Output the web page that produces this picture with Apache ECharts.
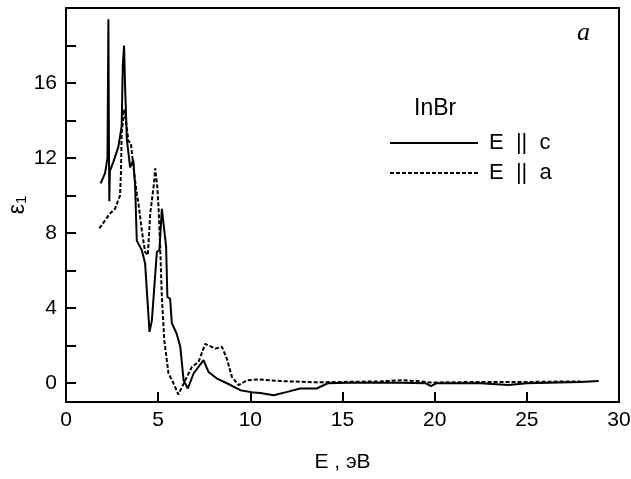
<!DOCTYPE html>
<html>
<head>
<meta charset="utf-8">
<script src="https://cdn.jsdelivr.net/npm/echarts@6/dist/echarts.min.js"></script>
<style>
  html, body { margin: 0; padding: 0; background: #fff; }
  #main { width: 631px; height: 479px; }
</style>
</head>
<body>
<div id="main"></div>
<script>
// E || c (solid), points [E, eps1]
var seriesC = [
    [1.88, 10.65], [2.12, 11.2], [2.25, 12.0], [2.30, 19.4], [2.33, 12.5], [2.35, 9.7],
    [2.38, 11.3], [2.57, 11.8], [2.84, 12.6], [3.02, 13.7], [3.08, 16.9], [3.15, 18.0],
    [3.2, 16.0], [3.3, 13.0], [3.48, 11.5], [3.57, 11.4], [3.65, 11.9], [3.75, 10.5],
    [3.84, 7.6], [4.11, 7.1], [4.29, 6.4], [4.53, 2.74], [4.66, 3.36], [4.93, 7.0],
    [5.07, 7.1], [5.2, 9.3], [5.3, 9.2], [5.43, 7.3], [5.5, 4.6], [5.65, 4.5],
    [5.74, 3.2], [6.0, 2.65], [6.2, 1.94], [6.38, 0.16], [6.61, -0.28], [6.92, 0.52],
    [7.46, 1.23], [7.73, 0.6], [8.19, 0.25], [8.73, 0.0], [9.46, -0.37], [10.2, -0.5],
    [10.54, -0.52], [11.27, -0.64], [12.0, -0.46], [12.7, -0.28], [13.6, -0.28], [14.2, 0],
    [15.3, 0.02], [18.2, 0.02], [19.5, 0.0], [19.8, -0.16], [20.1, 0.0], [22.5, 0.0],
    [24.0, -0.1], [25.0, 0.0], [27.9, 0.07], [28.9, 0.12]
];
// E || a (dashed)
var seriesA = [
    [1.81, 8.25], [2.39, 9.05], [2.66, 9.3], [2.93, 10.0], [2.98, 11.2], [3.02, 13.3],
    [3.15, 14.6], [3.25, 14.0], [3.39, 12.9], [3.52, 12.8], [3.62, 11.9], [3.7, 11.2],
    [3.84, 10.1], [3.93, 9.6], [4.11, 8.16], [4.29, 7.0], [4.44, 6.83], [4.57, 9.05],
    [4.78, 10.7], [4.84, 11.45], [4.95, 10.5], [5.02, 9.4], [5.11, 7.27], [5.2, 4.6],
    [5.33, 2.3], [5.56, 0.52], [5.83, 0.0], [6.1, -0.6], [6.29, -0.2], [6.83, 0.87],
    [7.19, 1.14], [7.55, 2.1], [8.1, 1.85], [8.46, 1.94], [8.73, 1.3], [9.0, 0.34],
    [9.36, -0.1], [9.82, 0.16], [10.5, 0.2], [11.6, 0.12], [13.4, 0.05], [17.1, 0.1],
    [18.2, 0.16], [19.2, 0.1], [19.8, 0.04], [22.5, 0.07], [25.2, 0.07], [27.9, 0.1]
];
var yTicks = [0, 2, 4, 6, 8, 10, 12, 14, 16, 18];
var yLabels = [0, 4, 8, 12, 16];

var font = 'Liberation Sans, Arial, sans-serif';
var myChart = echarts.init(document.getElementById('main'));

option = {
    backgroundColor: '#fff',
    animation: false,
    title: [{
        text: 'InBr',
        left: 414,
        top: 97,
        padding: 0,
        textStyle: { fontFamily: font, fontSize: 23, fontWeight: 'normal', color: '#000' }
    }, {
        text: 'a',
        left: 577,
        top: 20,
        padding: 0,
        textStyle: { fontFamily: 'Liberation Serif, Times New Roman, serif', fontStyle: 'italic', fontSize: 26, fontWeight: 'normal', color: '#000' }
    }],
    legend: {
        orient: 'vertical',
        left: 389,
        top: 132,
        padding: 0,
        itemWidth: 88,
        itemHeight: 14,
        itemGap: 8,
        itemStyle: { opacity: 0 },
        textStyle: { fontFamily: font, fontSize: 22, color: '#000', lineHeight: 22, padding: [0, 0, 0, 6] },
        data: ['E || c', 'E || a'],
        formatter: function (name) {
            return name.replace(/ \|\| /, '  ||  ');
        }
    },
    grid: {
        left: 66,
        right: 12,
        top: 8,
        bottom: 77,
        outerBoundsMode: 'none',
        containLabel: false,
        show: true,
        borderColor: '#000',
        borderWidth: 2
    },
    xAxis: {
        type: 'value',
        min: 0,
        max: 30,
        interval: 5,
        name: 'E , эВ',
        nameLocation: 'middle',
        nameGap: 50,
        nameMoveOverlap: false,
        nameTextStyle: { fontFamily: font, fontSize: 21, color: '#000' },
        axisLine: { onZero: false, lineStyle: { color: '#000', width: 2 } },
        axisTick: { inside: true, length: 10, lineStyle: { color: '#000', width: 2 } },
        axisLabel: { fontFamily: font, fontSize: 21, color: '#000', margin: 8 },
        splitLine: { show: false }
    },
    yAxis: {
        type: 'value',
        min: -1,
        max: 20,
        name: '{e|ε}{s|1}',
        nameLocation: 'middle',
        nameRotate: 90,
        nameGap: 37,
        nameMoveOverlap: false,
        nameTextStyle: {
            rich: {
                e: { fontFamily: font, fontSize: 23, color: '#000' },
                s: { fontFamily: font, fontSize: 15, color: '#000', verticalAlign: 'bottom', padding: [8, 0, 0, 0] }
            }
        },
        axisLine: { onZero: false, lineStyle: { color: '#000', width: 2 } },
        axisTick: { inside: true, length: 10, customValues: yTicks, lineStyle: { color: '#000', width: 2 } },
        axisLabel: { fontFamily: font, fontSize: 21, color: '#000', margin: 9, customValues: yLabels },
        splitLine: { show: false }
    },
    series: [{
        name: 'E || c',
        type: 'line',
        symbol: 'none',
        data: seriesC,
        lineStyle: { color: '#000', width: 2 },
        itemStyle: { color: '#000' }
    }, {
        name: 'E || a',
        type: 'line',
        symbol: 'none',
        data: seriesA,
        lineStyle: { color: '#000', width: 2, type: [4, 2] },
        itemStyle: { color: '#000' }
    }]
};
myChart.setOption(option);
</script>
</body>
</html>
